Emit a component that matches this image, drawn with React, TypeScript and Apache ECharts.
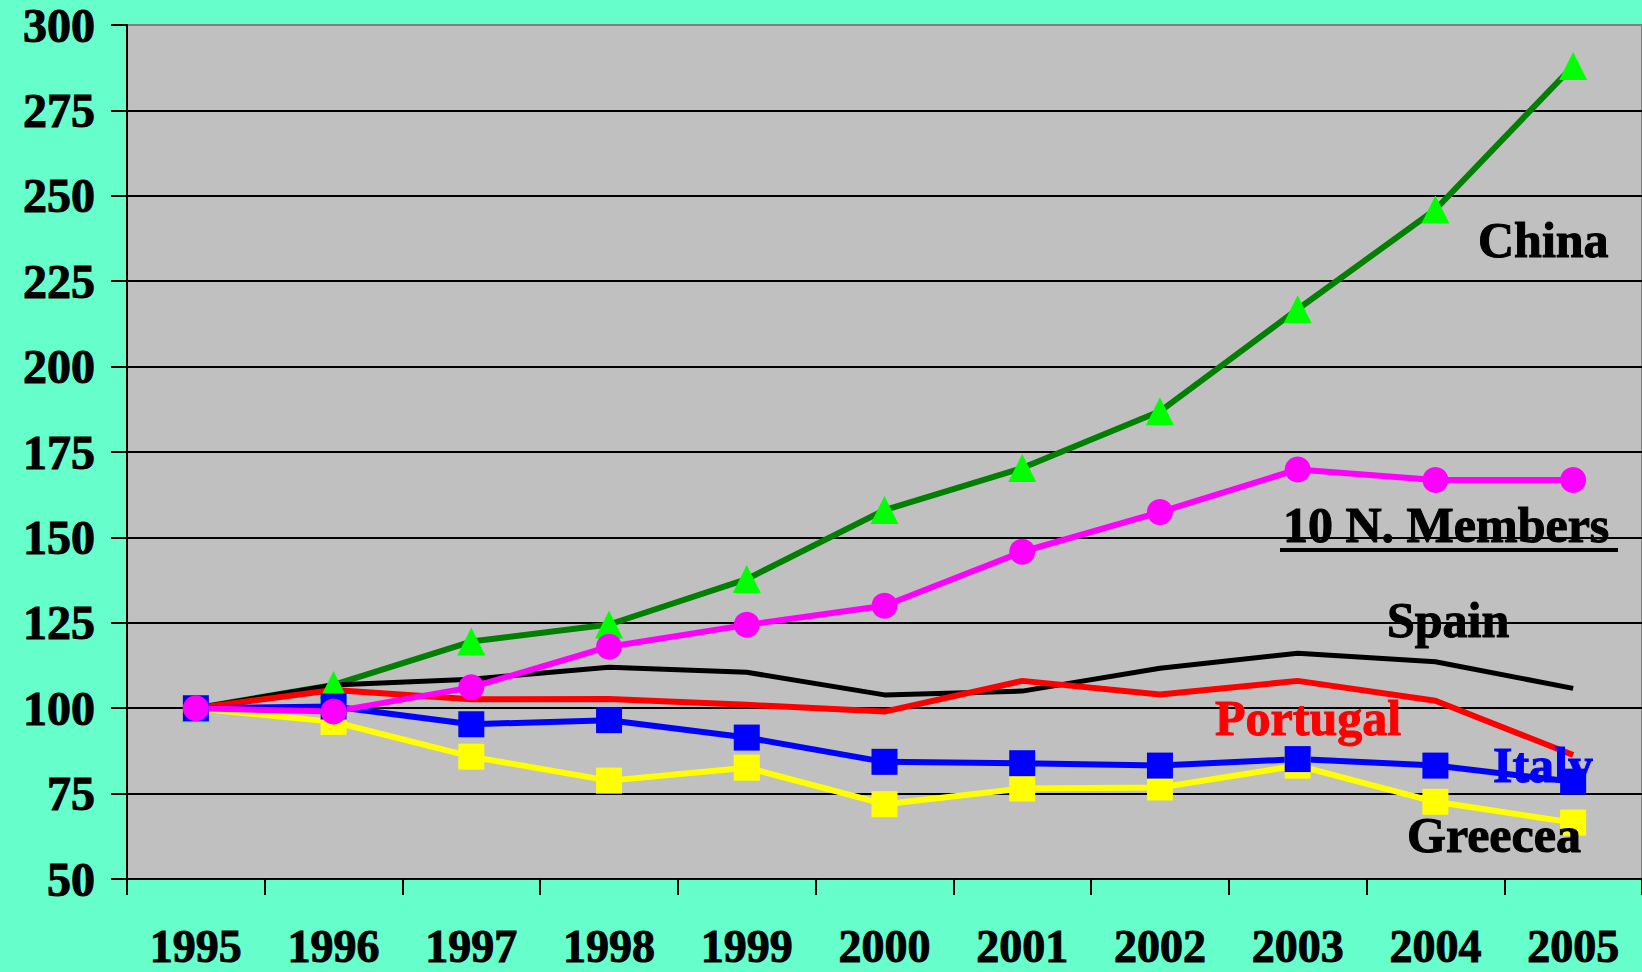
import React, { useEffect, useRef } from "react";
import * as echarts from "echarts";

const years = ["1995", "1996", "1997", "1998", "1999", "2000", "2001", "2002", "2003", "2004", "2005"];
const china = [100, 106.8, 119.5, 124.5, 137.8, 158, 170.3, 186.9, 216.8, 246, 288];
const newMembers = [100, 99, 106.1, 118, 124.4, 130, 145.8, 157.4, 169.9, 166.8, 166.8];
const spain = [100, 106.8, 108.5, 112, 110.5, 103.9, 105, 111.7, 116.1, 113.6, 105.8];
const portugal = [100, 105.3, 102.6, 102.7, 101, 99, 108, 104, 108, 102.2, 86.3];
const italy = [100, 100.5, 95.3, 96.5, 91.4, 84.3, 83.9, 83.2, 85.1, 83.2, 78.5];
const greece = [100, 96, 85.8, 78.8, 82.6, 71.9, 76.5, 76.8, 83.2, 72.6, 66.5];

const FONT = "'Liberation Serif', 'Times New Roman', serif";

export default function App() {
  const ref = useRef<HTMLDivElement>(null);
  useEffect(() => {
    document.body.style.margin = "0";
    const chart = echarts.init(ref.current!, null, { renderer: "svg" });
    const axisFont = { fontFamily: FONT, fontWeight: "bold", textBorderColor: "#000", textBorderWidth: 1 };
    const txt = (text: string, x: number, y: number, color: string) => ({
      type: "text",
      x,
      y,
      z: 100,
      style: {
        text,
        fontFamily: FONT,
        fontWeight: "bold",
        fontSize: 50,
        fill: color,
        stroke: color,
        lineWidth: 1,
        verticalAlign: "middle",
      },
    });
    const splitColors = ["#000", "#000", "#000", "#000", "#000", "#000", "#000", "#000", "#000", "#000", "#808080"];
    chart.setOption({
      animation: false,
      backgroundColor: "#66FFCC",
      grid: {
        left: 127,
        right: -3,
        top: 25,
        bottom: 93,
        show: true,
        backgroundColor: "#C0C0C0",
        borderColor: "#808080",
        borderWidth: 2,
      },
      xAxis: {
        type: "category",
        data: years,
        boundaryGap: true,
        axisLine: { lineStyle: { color: "#000", width: 2 } },
        axisTick: { show: true, length: 16, lineStyle: { color: "#000", width: 2 } },
        axisLabel: { ...axisFont, fontSize: 46, color: "#000", margin: 48, lineHeight: 38, interval: 0 },
      },
      yAxis: {
        type: "value",
        min: 50,
        max: 300,
        interval: 25,
        axisLine: { show: true, lineStyle: { color: "#000", width: 2 } },
        axisTick: { show: true, length: 16, lineStyle: { color: "#000", width: 2 } },
        axisLabel: { ...axisFont, fontSize: 48, color: "#000", margin: 32, lineHeight: 40 },
        splitLine: { show: true, lineStyle: { color: splitColors, width: 2 } },
      },
      series: [
        {
          name: "Greecea",
          type: "line",
          data: greece,
          symbol: "rect",
          symbolSize: 26,
          lineStyle: { color: "#FFFF00", width: 6 },
          itemStyle: { color: "#FFFF00" },
        },
        {
          name: "China",
          type: "line",
          data: china,
          symbol: "triangle",
          symbolSize: [28, 28],
          lineStyle: { color: "#008000", width: 6 },
          itemStyle: { color: "#00FF00" },
        },
        {
          name: "Spain",
          type: "line",
          data: spain,
          symbol: "none",
          lineStyle: { color: "#000", width: 5 },
          itemStyle: { color: "#000" },
        },
        {
          name: "Portugal",
          type: "line",
          data: portugal,
          symbol: "none",
          lineStyle: { color: "#FF0000", width: 6 },
          itemStyle: { color: "#FF0000" },
        },
        {
          name: "Italy",
          type: "line",
          data: italy,
          symbol: "rect",
          symbolSize: 26,
          lineStyle: { color: "#0000FF", width: 6 },
          itemStyle: { color: "#0000FF" },
        },
        {
          name: "10 N. Members",
          type: "line",
          data: newMembers,
          symbol: "circle",
          symbolSize: 26,
          lineStyle: { color: "#FF00FF", width: 6 },
          itemStyle: { color: "#FF00FF" },
        },
      ],
      graphic: [
        txt("China", 1478, 240, "#000"),
        txt("10 N. Members", 1283, 525, "#000"),
        { type: "line", z: 100, shape: { x1: 1280, y1: 550, x2: 1618, y2: 550 }, style: { stroke: "#000", lineWidth: 4 } },
        txt("Spain", 1387, 620, "#000"),
        txt("Portugal", 1215, 718, "#FF0000"),
        txt("Italy", 1493, 765, "#0000FF"),
        txt("Greecea", 1407, 835, "#000"),
      ],
    });
    return () => chart.dispose();
  }, []);
  return <div ref={ref} style={{ position: "fixed", left: 0, top: 0, width: 1642, height: 972 }} />;
}
